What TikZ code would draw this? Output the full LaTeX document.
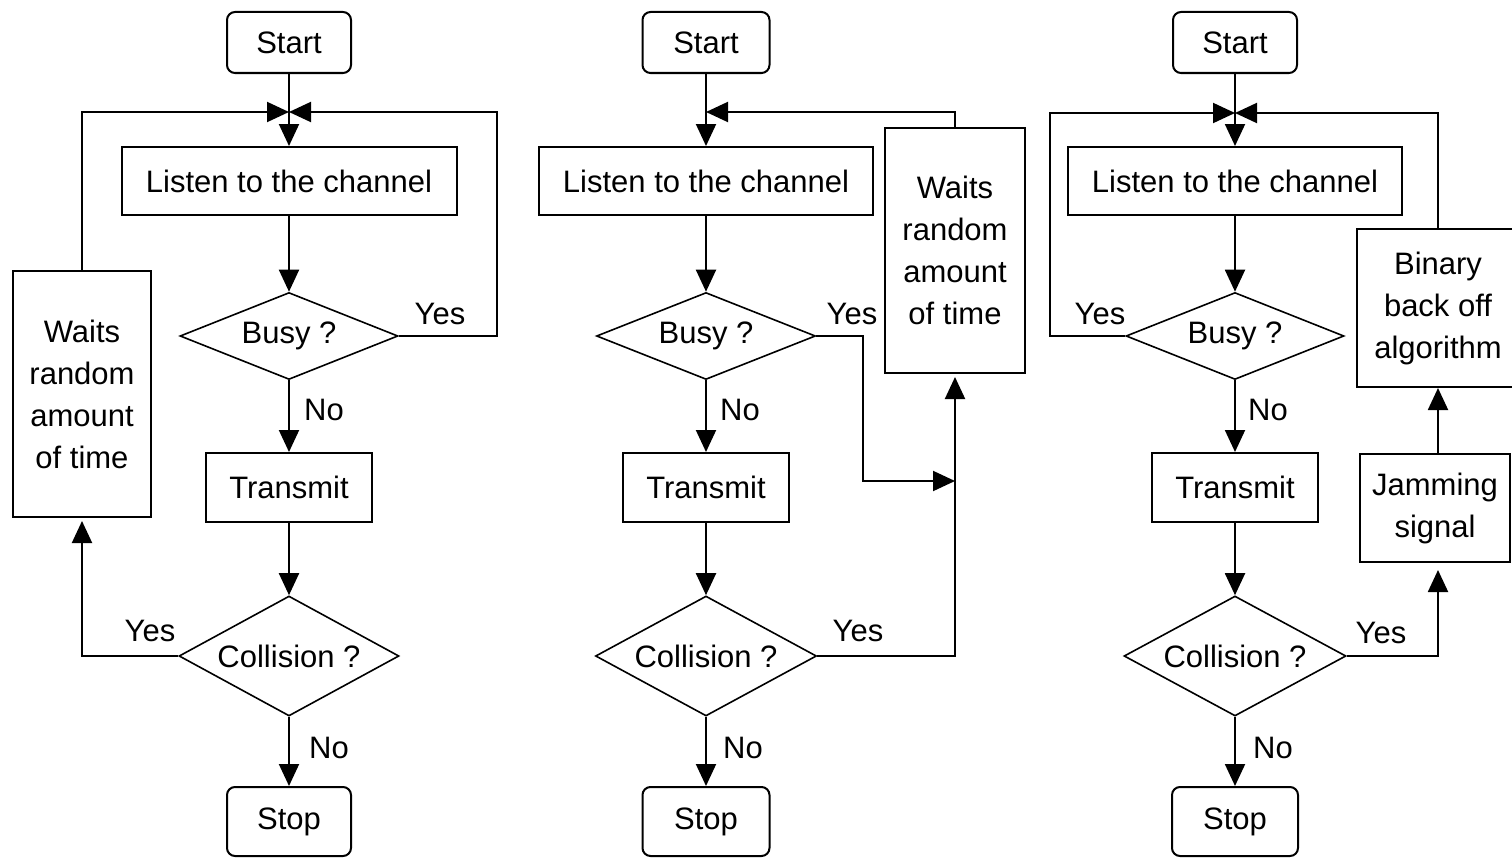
\documentclass[tikz,border=0pt]{standalone}
\usepackage{fontspec}
\setmainfont{Liberation Sans}
\usetikzlibrary{shapes.geometric,arrows.meta}

\begin{document}
\begin{tikzpicture}[x=1pt,y=-1pt,
  every node/.style={font=\fontsize{31}{42}\selectfont},
  wh/.style n args={2}{minimum width=#1pt,minimum height=#2pt},
  box/.style={draw,line width=2pt,inner sep=0pt,align=center},
  term/.style={box,rounded corners=8pt},
  decision/.style={draw,diamond,line width=1.6pt,inner sep=0pt,aspect=2.5},
  arr/.style={line width=2pt,-{Triangle[length=22pt,width=20pt]}},
  lbl/.style={inner sep=0pt}
]
\useasboundingbox (0,0) rectangle (1512,859);

% ---------- first flowchart ----------
\node[term,wh={124}{61}]  (start1)  at (289,42.5)  {Start};
\node[box,wh={335}{68}]   (listen1) at (289,181)   {Listen to the channel};
\node[decision,wh={218}{87}]  (busy1) at (289,336) {\makebox[0pt]{Busy ?}};
\node[box,wh={166}{69}]   (trans1)  at (289,487.5) {Transmit};
\node[decision,wh={220}{120}] (coll1) at (289,656) {\makebox[0pt]{Collision ?}};
\node[term,wh={124}{69}]  (stop1)   at (289,821.5) {Stop};
\node[box,wh={138}{246}]  (wait1)   at (82,394)    {Waits\\random\\amount\\of time};
\coordinate (m1) at (289,112);

\draw[arr] (start1) -- (listen1);
\draw[arr] (wait1.north) |- (m1);
\draw[arr] (busy1.east) -- ++(98,0) |- (m1);
\draw[arr] (listen1) -- (busy1);
\draw[arr] (busy1) -- (trans1);
\draw[arr] (trans1) -- (coll1);
\draw[arr,shorten >=3pt] (coll1.west) -| (wait1.south);
\draw[arr] (coll1) -- (stop1);
\node[lbl] (y1a) at (440,314) {Yes};
\node[lbl] (n1a) at (324,410) {No};
\node[lbl] (y1b) at (150,631) {Yes};
\node[lbl] (n1b) at (329,748) {No};

% ---------- second flowchart ----------
\node[term,wh={127}{61}]  (start2)  at (706,42.5)  {Start};
\node[box,wh={334}{68}]   (listen2) at (706,181)   {Listen to the channel};
\node[decision,wh={219}{87}]  (busy2) at (706,336) {\makebox[0pt]{Busy ?}};
\node[box,wh={166}{69}]   (trans2)  at (706,487.5) {Transmit};
\node[decision,wh={221}{120}] (coll2) at (706,656) {\makebox[0pt]{Collision ?}};
\node[term,wh={127}{69}]  (stop2)   at (706,821.5) {Stop};
\node[box,wh={140}{245}]  (wait2)   at (955,250.5) {Waits\\random\\amount\\of time};
\coordinate (m2) at (706,112);
\coordinate (j2) at (955,481);

\draw[arr] (start2) -- (listen2);
\draw[arr] (wait2.north) |- (m2);
\draw[arr] (listen2) -- (busy2);
\draw[arr] (busy2.east) -- ++(47,0) |- (j2);
\draw[arr] (busy2) -- (trans2);
\draw[arr] (trans2) -- (coll2);
\draw[arr,shorten >=3pt] (coll2.east) -| (wait2.south);
\draw[arr] (coll2) -- (stop2);
\node[lbl] (y2a) at (852,314) {Yes};
\node[lbl] (n2a) at (740,410) {No};
\node[lbl] (y2b) at (858,631) {Yes};
\node[lbl] (n2b) at (743,748) {No};

% ---------- third flowchart ----------
\node[term,wh={124}{61}]  (start3)  at (1235,42.5)  {Start};
\node[box,wh={334}{68}]   (listen3) at (1235,181)   {Listen to the channel};
\node[decision,wh={218}{87}]  (busy3) at (1235,336) {\makebox[0pt]{Busy ?}};
\node[box,wh={166}{69}]   (trans3)  at (1235,487.5) {Transmit};
\node[decision,wh={222}{120}] (coll3) at (1235,656) {\makebox[0pt]{Collision ?}};
\node[term,wh={126}{69}]  (stop3)   at (1235,821.5) {Stop};
\node[box,wh={162}{158}]  (binary)  at (1438,308)   {Binary\\back off\\algorithm};
\node[box,wh={150}{108}]  (jam)     at (1435,508)   {Jamming\\signal};
\coordinate (m3) at (1235,113);

\draw[arr] (start3) -- (listen3);
\draw[arr] (busy3.west) -- ++(-75,0) |- (m3);
\draw[arr] (binary.north) |- (m3);
\draw[arr] (listen3) -- (busy3);
\draw[arr] (busy3) -- (trans3);
\draw[arr] (trans3) -- (coll3);
\draw[arr] (binary.south |- jam.north) -- (binary.south);
\draw[arr,shorten >=7pt] (coll3.east) -| (binary.south |- jam.south);
\draw[arr] (coll3) -- (stop3);
\node[lbl] (y3a) at (1100,314) {Yes};
\node[lbl] (n3a) at (1268,410) {No};
\node[lbl] (y3b) at (1381,633) {Yes};
\node[lbl] (n3b) at (1273,748) {No};
\end{tikzpicture}
\end{document}
